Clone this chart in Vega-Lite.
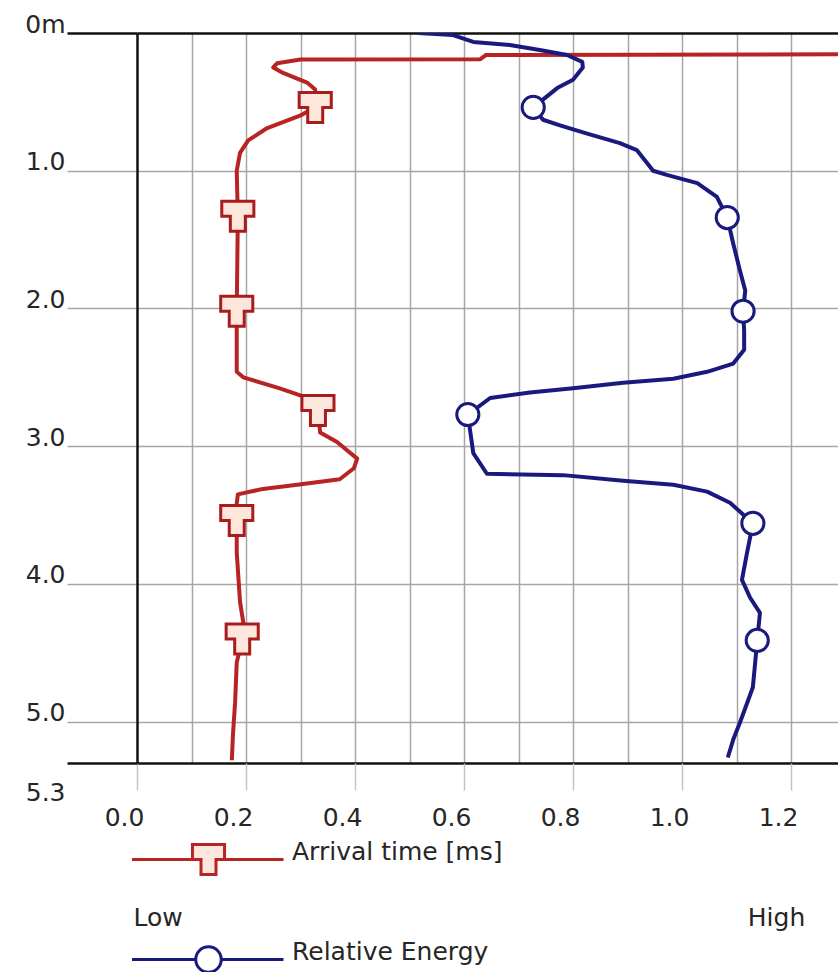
{
  "$schema": "https://vega.github.io/schema/vega-lite/v6.json",
  "width": 701,
  "height": 730,
  "autosize": {"type": "none"},
  "padding": {"left": 137, "top": 33, "right": 0, "bottom": 209},
  "background": "white",
  "config": {
    "view": {"stroke": null},
    "font": "DejaVu Sans",
    "axis": {"labelFont": "DejaVu Sans", "labelFontSize": 25, "labelColor": "#262626", "title": null},
    "legend": {"labelFont": "DejaVu Sans", "labelFontSize": 25, "labelColor": "#262626", "labelLimit": 0}
  },
  "datasets": {
    "arrival": [
      {"d": 0.155, "v": 1.3}, {"d": 0.16, "v": 0.64}, {"d": 0.19, "v": 0.63}, {"d": 0.192, "v": 0.3},
      {"d": 0.22, "v": 0.257}, {"d": 0.25, "v": 0.25}, {"d": 0.29, "v": 0.268}, {"d": 0.36, "v": 0.312},
      {"d": 0.41, "v": 0.327}, {"d": 0.54, "v": 0.327}, {"d": 0.6, "v": 0.299}, {"d": 0.69, "v": 0.239},
      {"d": 0.78, "v": 0.204}, {"d": 0.87, "v": 0.189}, {"d": 1.0, "v": 0.183}, {"d": 1.33, "v": 0.185},
      {"d": 2.02, "v": 0.183}, {"d": 2.46, "v": 0.183}, {"d": 2.5, "v": 0.195}, {"d": 2.58, "v": 0.262},
      {"d": 2.66, "v": 0.321}, {"d": 2.74, "v": 0.332}, {"d": 2.9, "v": 0.336}, {"d": 2.97, "v": 0.367},
      {"d": 3.09, "v": 0.404}, {"d": 3.16, "v": 0.398}, {"d": 3.24, "v": 0.372}, {"d": 3.28, "v": 0.294},
      {"d": 3.31, "v": 0.231}, {"d": 3.35, "v": 0.185}, {"d": 3.48, "v": 0.181}, {"d": 3.54, "v": 0.183},
      {"d": 3.77, "v": 0.183}, {"d": 4.13, "v": 0.189}, {"d": 4.28, "v": 0.195}, {"d": 4.4, "v": 0.193},
      {"d": 4.57, "v": 0.183}, {"d": 4.86, "v": 0.18}, {"d": 5.1, "v": 0.176}, {"d": 5.28, "v": 0.174}
    ],
    "arrivalMarkers": [
      {"d": 0.54, "v": 0.327}, {"d": 1.33, "v": 0.185}, {"d": 2.02, "v": 0.183},
      {"d": 2.74, "v": 0.332}, {"d": 3.54, "v": 0.183}, {"d": 4.4, "v": 0.193}
    ],
    "energy": [
      {"d": 0.0, "v": 0.516}, {"d": 0.015, "v": 0.58}, {"d": 0.065, "v": 0.617}, {"d": 0.087, "v": 0.684},
      {"d": 0.123, "v": 0.739}, {"d": 0.16, "v": 0.789}, {"d": 0.21, "v": 0.817}, {"d": 0.25, "v": 0.818},
      {"d": 0.34, "v": 0.8}, {"d": 0.4, "v": 0.771}, {"d": 0.54, "v": 0.727}, {"d": 0.63, "v": 0.745},
      {"d": 0.67, "v": 0.776}, {"d": 0.73, "v": 0.826}, {"d": 0.8, "v": 0.886}, {"d": 0.85, "v": 0.917},
      {"d": 1.0, "v": 0.947}, {"d": 1.03, "v": 0.972}, {"d": 1.09, "v": 1.028}, {"d": 1.19, "v": 1.064},
      {"d": 1.34, "v": 1.083}, {"d": 1.53, "v": 1.094}, {"d": 1.72, "v": 1.106}, {"d": 1.87, "v": 1.116},
      {"d": 2.02, "v": 1.112}, {"d": 2.16, "v": 1.114}, {"d": 2.3, "v": 1.114}, {"d": 2.4, "v": 1.094},
      {"d": 2.46, "v": 1.046}, {"d": 2.51, "v": 0.984}, {"d": 2.54, "v": 0.892}, {"d": 2.58, "v": 0.8},
      {"d": 2.61, "v": 0.721}, {"d": 2.65, "v": 0.648}, {"d": 2.77, "v": 0.607}, {"d": 2.88, "v": 0.611},
      {"d": 3.05, "v": 0.617}, {"d": 3.2, "v": 0.642}, {"d": 3.21, "v": 0.782}, {"d": 3.25, "v": 0.892},
      {"d": 3.28, "v": 0.984}, {"d": 3.33, "v": 1.046}, {"d": 3.41, "v": 1.088}, {"d": 3.56, "v": 1.13},
      {"d": 3.78, "v": 1.119}, {"d": 3.97, "v": 1.11}, {"d": 4.1, "v": 1.125}, {"d": 4.21, "v": 1.143},
      {"d": 4.41, "v": 1.138}, {"d": 4.58, "v": 1.134}, {"d": 4.75, "v": 1.13}, {"d": 4.87, "v": 1.119},
      {"d": 5.01, "v": 1.106}, {"d": 5.13, "v": 1.094}, {"d": 5.26, "v": 1.084}
    ],
    "energyMarkers": [
      {"d": 0.54, "v": 0.727}, {"d": 1.34, "v": 1.083}, {"d": 2.02, "v": 1.112},
      {"d": 2.77, "v": 0.607}, {"d": 3.56, "v": 1.13}, {"d": 4.41, "v": 1.138}
    ]
  },
  "layer": [
    {
      "data": {"name": "arrival"},
      "mark": {"type": "line", "clip": true, "strokeWidth": 4, "strokeJoin": "round"},
      "encoding": {
        "x": {
          "field": "v", "type": "quantitative",
          "scale": {"domain": [0, 1.2862], "nice": false, "zero": false},
          "axis": {
            "orient": "bottom",
            "values": [0, 0.1, 0.2, 0.3, 0.4, 0.5, 0.6, 0.7, 0.8, 0.9, 1.0, 1.1, 1.2],
            "labelExpr": "round(datum.value*10) % 2 == 0 ? format(datum.value, '.1f') : ''",
            "grid": true, "gridColor": "#a6a6a6", "gridWidth": 1.5,
            "gridOpacity": {"condition": {"test": "datum.value == 0", "value": 0}, "value": 1},
            "domain": false, "ticks": true, "tickSize": 27, "tickColor": "#c4c4c4", "tickWidth": 1.5,
            "tickOpacity": {"condition": {"test": "round(datum.value*10) % 2 == 1", "value": 0}, "value": 1},
            "labelPadding": 35, "labelBaseline": "alphabetic", "labelOffset": -13,
            "labelFlush": false, "labelOverlap": false, "labelBound": false, "title": null
          }
        },
        "y": {
          "field": "d", "type": "quantitative",
          "scale": {"domain": [0, 5.3], "reverse": true, "nice": false, "zero": false},
          "axis": {
            "values": [0, 1, 2, 3, 4, 5, 5.3],
            "labelExpr": "datum.value == 0 ? '0m' : format(datum.value, '.1f')",
            "grid": true,
            "gridColor": {"condition": {"test": "datum.value == 0 || datum.value == 5.3", "value": "#111111"}, "value": "#a6a6a6"},
            "gridWidth": {"condition": {"test": "datum.value == 0 || datum.value == 5.3", "value": 2.5}, "value": 1.5},
            "domain": true, "domainColor": "#111111", "domainWidth": 2.5,
            "ticks": true, "tickSize": 70,
            "tickColor": {"condition": {"test": "datum.value == 0 || datum.value == 5.3", "value": "#111111"}, "value": "#a6a6a6"},
            "tickWidth": {"condition": {"test": "datum.value == 0 || datum.value == 5.3", "value": 2.5}, "value": 1.5},
            "labelPadding": 2, "labelAlign": "right", "labelBaseline": "alphabetic",
            "labelOffset": {"condition": {"test": "datum.value == 5.3", "value": 37}, "value": -1},
            "labelFlush": false, "labelOverlap": false, "labelBound": false, "title": null
          }
        },
        "order": {"field": "d"},
        "color": {
          "datum": "Arrival time [ms]",
          "scale": {"range": ["#b82323"]},
          "legend": {
            "orient": "none", "legendX": 55, "legendY": 810, "title": null, "padding": 0,
            "symbolType": "M-5.1,0H-1.07M1.07,0H5M-1.07,-1V0H-0.5V1H0.5V0H1.07V-1Z",
            "symbolSize": 900, "symbolStrokeWidth": 3,
            "labelOffset": 67, "labelBaseline": "alphabetic", "labelLimit": 0,
            "encode": {"symbols": {"update": {"fill": {"value": "#fde6dc"}, "stroke": {"value": "#a81c1c"}, "opacity": {"value": 1}}}}
          }
        }
      }
    },
    {
      "data": {"name": "arrivalMarkers"},
      "mark": {"type": "point", "shape": "M-1.07,-1V0H-0.5V1H0.5V0H1.07V-1Z", "size": 900, "filled": true, "fill": "#fde6dc", "stroke": "#a81c1c", "strokeWidth": 3, "opacity": 1},
      "encoding": {
        "x": {"field": "v", "type": "quantitative", "axis": null},
        "y": {"field": "d", "type": "quantitative"}
      }
    },
    {
      "data": {"name": "energy"},
      "mark": {"type": "line", "clip": true, "strokeWidth": 4, "strokeJoin": "round"},
      "encoding": {
        "x": {
          "field": "v", "type": "quantitative",
          "axis": {
            "orient": "bottom",
            "values": [0, 1.2],
            "labelExpr": "datum.value == 0 ? 'Low' : 'High'",
            "grid": false, "ticks": false, "tickSize": 0, "domain": false,
            "labelPadding": 162, "labelBaseline": "alphabetic",
            "labelAlign": {"condition": {"test": "datum.value == 0", "value": "left"}, "value": "center"},
            "labelOffset": {"condition": {"test": "datum.value == 0", "value": -4}, "value": -15},
            "labelFlush": false, "labelOverlap": false, "labelBound": false, "title": null
          }
        },
        "y": {"field": "d", "type": "quantitative"},
        "order": {"field": "d"},
        "color": {
          "datum": "Relative Energy",
          "scale": {"range": ["#1a1a7e"]},
          "legend": {
            "orient": "none", "legendX": 55, "legendY": 910, "title": null, "padding": 0,
            "symbolType": "M-5.1,0H-0.85M0.85,0H5M-0.85,0A0.85,0.85,0,1,1,0.85,0A0.85,0.85,0,1,1,-0.85,0Z",
            "symbolSize": 900, "symbolStrokeWidth": 3,
            "labelOffset": 67, "labelBaseline": "alphabetic", "labelLimit": 0,
            "encode": {"symbols": {"update": {"fill": {"value": "#ffffff"}, "stroke": {"value": "#1a1a7e"}, "opacity": {"value": 1}}}}
          }
        }
      }
    },
    {
      "data": {"name": "energyMarkers"},
      "mark": {"type": "point", "shape": "circle", "size": 490, "filled": true, "fill": "#ffffff", "stroke": "#1a1a7e", "strokeWidth": 3, "opacity": 1},
      "encoding": {
        "x": {"field": "v", "type": "quantitative", "axis": null},
        "y": {"field": "d", "type": "quantitative"}
      }
    }
  ],
  "resolve": {"scale": {"color": "independent"}, "axis": {"x": "independent"}, "legend": {"color": "independent"}}
}
